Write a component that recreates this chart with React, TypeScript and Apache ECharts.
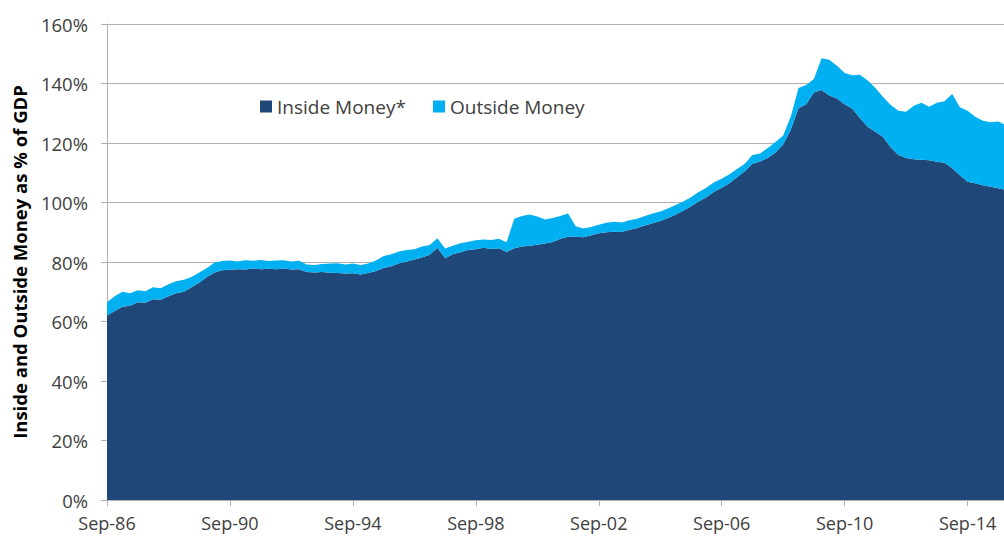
import React, { useEffect, useRef } from "react";
import * as echarts from "echarts";

// Quarterly observations, index 0 = Sep-86, one step = one quarter
const insideMoney: number[] = [
  62, 63.5, 65, 65.3, 66.5, 66.3, 67.5, 67.3, 68.5, 69.5,
  70, 71.5, 73, 75, 76.5, 77.2, 77.4, 77.6, 77.5, 77.8,
  77.6, 77.7, 77.6, 77.8, 77.5, 77.6, 76.6, 76.5, 76.6, 76.4,
  76.3, 76.1, 76.2, 75.8, 76.3, 77, 78, 78.6, 79.6, 80.2,
  80.8, 81.5, 82.4, 84.8, 81.3, 82.6, 83.3, 84, 84.3, 84.8,
  84.4, 84.6, 83.4, 84.6, 85.2, 85.5, 85.8, 86.2, 86.7, 87.8,
  88.5, 88.5, 88.3, 89, 89.7, 90, 90.2, 90.1, 90.8, 91.4,
  92.3, 93, 93.8, 94.8, 95.9, 97.2, 98.7, 100.3, 101.8, 103.6,
  105, 106.5, 108.5, 110.5, 113, 113.8, 115, 116.8, 119.5, 124.5,
  131.7, 133, 137, 137.8, 136, 135, 133, 131.5, 128.3, 125.5,
  123.8, 122, 118.5, 116, 115, 114.5, 114.4, 114.2, 113.7, 113.4,
  111.5, 109.2, 107, 106.5, 105.8, 105.3, 104.8, 104.2,
];

const outsideMoney: number[] = [
  4.5, 5.0, 5.0, 4.2, 4.0, 3.9, 4.0, 3.9, 4.0, 4.0,
  4.0, 3.5, 3.5, 3.0, 3.3, 3.1, 3.1, 2.6, 3.1, 2.6,
  3.1, 2.6, 2.9, 2.8, 2.7, 2.8, 2.6, 2.5, 2.7, 3.1,
  3.3, 3.1, 3.3, 3.2, 3.2, 3.5, 4.0, 4.0, 3.9, 3.8,
  3.5, 3.7, 3.3, 3.2, 3.2, 2.9, 3.0, 2.8, 3.0, 2.8,
  3.0, 3.2, 3.2, 9.9, 10.3, 10.5, 9.5, 8.1, 8.1, 7.7,
  7.8, 3.5, 3.0, 2.8, 2.8, 3.2, 3.3, 3.2, 3.2, 3.1,
  3.2, 3.3, 3.2, 3.2, 3.3, 3.1, 3.1, 3.2, 3.2, 3.2,
  3.0, 3.0, 2.8, 2.5, 3.0, 2.7, 3.3, 3.5, 3.0, 4.5,
  6.8, 6.5, 4.5, 10.7, 12.0, 11.0, 10.5, 11.3, 14.6, 15.5,
  14.7, 13.5, 14.3, 14.8, 15.5, 18.0, 19.1, 18.0, 19.8, 20.6,
  25.0, 22.8, 23.8, 22.3, 21.7, 21.7, 22.4, 21.8,
];

// quarter-end months of the series, starting at Sep-86
const quarterMonths: string[] = ["Sep", "Dec", "Mar", "Jun"];
const firstYear = 86;

const seriesNames = ["Inside Money*", "Outside Money"];
const yAxisTitle = "Inside and Outside Money as % of GDP";

const quarterLabels = insideMoney.map((_, i) => {
  const yy = (firstYear + Math.floor((i + 2) / 4)) % 100;
  return `${quarterMonths[i % 4]}-${String(yy).padStart(2, "0")}`;
});

const FONT = "'Open Sans', 'Noto Sans', sans-serif";
const TEXT = "#404040";
const GRID = "#B0B0B0";

export default function App() {
  const ref = useRef<HTMLDivElement>(null);

  useEffect(() => {
    if (!ref.current) return;
    const chart = echarts.init(ref.current, null, { renderer: "svg" });
    const legendCommon = {
      top: 97,
      padding: 0,
      icon: "rect",
      itemWidth: 12,
      itemHeight: 12,
      itemGap: 0,
      textStyle: { fontFamily: FONT, fontSize: 19, color: TEXT },
    };
    chart.setOption({
      animation: false,
      backgroundColor: "#ffffff",
      textStyle: { fontFamily: FONT },
      grid: { left: 107, top: 24, right: 0, bottom: 37, containLabel: false },
      legend: [
        { ...legendCommon, data: [seriesNames[0]], left: 260 },
        { ...legendCommon, data: [seriesNames[1]], left: 433 },
      ],
      xAxis: {
        type: "category",
        boundaryGap: false,
        data: quarterLabels,
        axisLine: { show: true, lineStyle: { color: GRID, width: 1 } },
        axisTick: { show: true, length: 6, interval: 15, lineStyle: { color: GRID } },
        splitLine: { show: false },
        axisLabel: {
          interval: 15,
          margin: 13,
          fontSize: 18,
          lineHeight: 20,
          color: TEXT,
          fontFamily: FONT,
        },
      },
      yAxis: {
        type: "value",
        min: 0,
        max: 160,
        interval: 20,
        name: yAxisTitle,
        nameLocation: "middle",
        nameGap: 78,
        nameTextStyle: { fontFamily: FONT, fontSize: 18.5, fontWeight: "bold", color: "#000000" },
        axisLine: { show: true, lineStyle: { color: GRID, width: 1 } },
        axisTick: { show: true, length: 6, lineStyle: { color: GRID } },
        splitLine: { show: true, lineStyle: { color: GRID, width: 1 } },
        axisLabel: {
          margin: 19,
          fontSize: 18.5,
          color: TEXT,
          fontFamily: FONT,
          formatter: "{value}%",
        },
      },
      series: [
        {
          name: seriesNames[0],
          type: "line",
          stack: "money",
          symbol: "none",
          color: "#1F4778",
          lineStyle: { width: 0 },
          areaStyle: { color: "#1F4778", opacity: 1 },
          data: insideMoney,
        },
        {
          name: seriesNames[1],
          type: "line",
          stack: "money",
          symbol: "none",
          color: "#00B0F0",
          lineStyle: { width: 0 },
          areaStyle: { color: "#00B0F0", opacity: 1 },
          data: outsideMoney,
        },
      ],
    });
    return () => chart.dispose();
  }, []);

  return (
    <div
      style={{ position: "fixed", left: 0, top: 0, width: 1004, height: 537, overflow: "hidden", background: "#fff" }}
    >
      <div ref={ref} style={{ width: 1006, height: 537 }} />
    </div>
  );
}
